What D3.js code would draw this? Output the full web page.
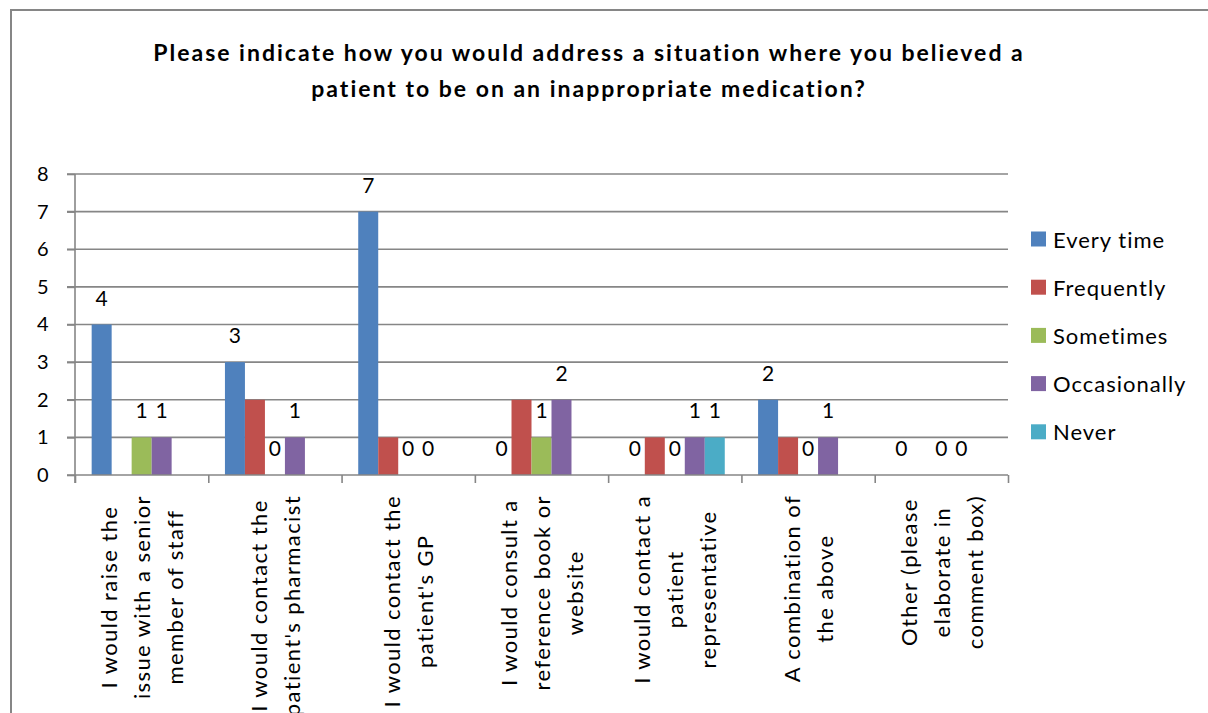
<!DOCTYPE html>
<html>
<head>
<meta charset="utf-8">
<script src="https://cdn.jsdelivr.net/npm/d3@7/dist/d3.min.js"></script>
<style>
  html, body { margin: 0; padding: 0; background: #fff; }
  svg { display: block; font-family: Lato, "Open Sans", sans-serif; }
</style>
</head>
<body>
<svg id="chart" width="1208" height="713"></svg>
<script>
// ---- data ----
const titleLines = [
  "Please indicate how you would address a situation where you believed a",
  "patient to be on an inappropriate medication?"
];
const categories = [
  ["I would raise the", "issue with a senior", "member of staff"],
  ["I would contact the", "patient's pharmacist"],
  ["I would contact the", "patient's GP"],
  ["I would consult a", "reference book or", "website"],
  ["I would contact a", "patient", "representative"],
  ["A combination of", "the above"],
  ["Other (please", "elaborate in", "comment box)"]
];
const seriesNames = ["Every time", "Frequently", "Sometimes", "Occasionally", "Never"];
const everyTime    = [4, 3, 7, 0, 0, 2, 0];
const frequently   = [0, 2, 1, 2, 1, 1, 0];
const sometimes    = [1, 0, 0, 1, 0, 0, 0];
const occasionally = [1, 1, 0, 2, 1, 1, 0];
const never        = [null, null, null, null, 1, null, null];
const yTicks = [0, 1, 2, 3, 4, 5, 6, 7, 8];
const labelledSeries = ["Every time", "Sometimes", "Occasionally", "Never"];
const seriesColors = ["#4F81BD", "#C0504D", "#9BBB59", "#8064A2", "#4BACC6"];

const seriesValues = [everyTime, frequently, sometimes, occasionally, never];

// ---- layout ----
const svg = d3.select("#chart");
const W = 1208, H = 713;
const plot = { left: 75, right: 1008, top: 174, bottom: 475 };
const gridColor = "#868686";

// chart border (partially visible)
svg.append("path")
  .attr("d", `M11,${H} L11,10 L${W},10`)
  .attr("fill", "none").attr("stroke", gridColor).attr("stroke-width", 2);

// title
svg.append("g").selectAll("text").data(titleLines).join("text")
  .attr("x", 589).attr("y", (d, i) => 61 + i * 36)
  .attr("text-anchor", "middle")
  .attr("font-weight", "bold").attr("font-size", 23).attr("letter-spacing", 2.0)
  .attr("fill", "#000")
  .text(d => d);

const x0 = d3.scaleBand().domain(d3.range(categories.length))
  .range([plot.left, plot.right]).padding(0);
const bw = x0.bandwidth();
const x1 = d3.scaleBand().domain(seriesNames).range([bw * 0.125, bw * 0.875]).padding(0);
const y = d3.scaleLinear().domain([0, 8]).range([plot.bottom, plot.top]);
const xb = d3.scaleLinear().domain([0, categories.length]).range([plot.left, plot.right]);

// gridlines
svg.append("g").selectAll("line").data(yTicks.filter(t => t > 0)).join("line")
  .attr("x1", plot.left - 8).attr("x2", plot.right)
  .attr("y1", d => y(d)).attr("y2", d => y(d))
  .attr("stroke", gridColor).attr("stroke-width", 1.6);

// y axis
const yAxis = svg.append("g").attr("transform", `translate(${plot.left},0)`)
  .call(d3.axisLeft(y).tickValues(yTicks).tickSize(8).tickPadding(18).tickFormat(d3.format("d")));
yAxis.select(".domain").attr("stroke", gridColor).attr("stroke-width", 1.6)
  .attr("d", `M0,${plot.top}V${plot.bottom + 8}`);
yAxis.selectAll(".tick line").attr("stroke", gridColor).attr("stroke-width", 1.6);
yAxis.selectAll(".tick text").attr("font-size", 20).attr("letter-spacing", 0.5).attr("fill", "#000")
  .attr("font-family", "Lato, sans-serif");

// bars
const groups = svg.append("g").selectAll("g").data(categories).join("g")
  .attr("transform", (d, i) => `translate(${x0(i)},0)`);

const barData = (ci) => seriesNames.map((s, si) => ({ s, si, v: seriesValues[si][ci] }));

groups.selectAll("rect").data((d, ci) => barData(ci).filter(b => b.v !== null && b.v > 0)).join("rect")
  .attr("x", b => x1(b.s)).attr("width", x1.bandwidth())
  .attr("y", b => y(b.v)).attr("height", b => y(0) - y(b.v))
  .attr("fill", b => seriesColors[b.si]);

// x axis
const xAxis = svg.append("g").attr("transform", `translate(0,${plot.bottom})`)
  .call(d3.axisBottom(xb).ticks(categories.length).tickSize(8).tickFormat(""));
xAxis.select(".domain").attr("stroke", gridColor).attr("stroke-width", 1.6)
  .attr("d", `M${plot.left - 8},0H${plot.right}`);
xAxis.selectAll(".tick line").attr("stroke", gridColor).attr("stroke-width", 1.6);

// data labels
groups.selectAll("text.val")
  .data((d, ci) => barData(ci).filter(b => b.v !== null && labelledSeries.includes(b.s)))
  .join("text").attr("class", "val")
  .attr("x", b => x1(b.s) + x1.bandwidth() / 2)
  .attr("y", b => y(b.v) - 19)
  .attr("text-anchor", "middle").attr("font-size", 21).attr("fill", "#000")
  .text(b => b.v);

// category labels (rotated, multi-line, centred lines, block right-aligned to axis)
const labelTop = plot.bottom + 20;
const lineGap = 33;
groups.each(function (lines, ci) {
  const g = d3.select(this);
  const cx = bw / 2;
  const texts = g.selectAll("text.cat").data(lines).join("text").attr("class", "cat")
    .attr("text-anchor", "middle").attr("dominant-baseline", "central")
    .attr("font-size", 22).attr("letter-spacing", 1.4).attr("fill", "#000")
    .text(d => d);
  let maxLen = 0;
  texts.each(function () { maxLen = Math.max(maxLen, this.getComputedTextLength()); });
  const n = lines.length;
  texts.attr("transform", (d, j) =>
    `translate(${cx + (j - (n - 1) / 2) * lineGap},${labelTop + maxLen / 2}) rotate(-90)`);
});

// legend
const legend = svg.append("g").attr("transform", "translate(1031,239)");
const items = legend.selectAll("g").data(seriesNames).join("g")
  .attr("transform", (d, i) => `translate(0,${i * 48.2})`);
items.append("rect").attr("x", 0).attr("y", -7.5).attr("width", 15).attr("height", 15)
  .attr("fill", (d, i) => seriesColors[i]);
items.append("text").attr("x", 22).attr("y", 0).attr("dominant-baseline", "central")
  .attr("font-size", 22).attr("letter-spacing", 1.0).attr("fill", "#000").text(d => d);
</script>
</body>
</html>
